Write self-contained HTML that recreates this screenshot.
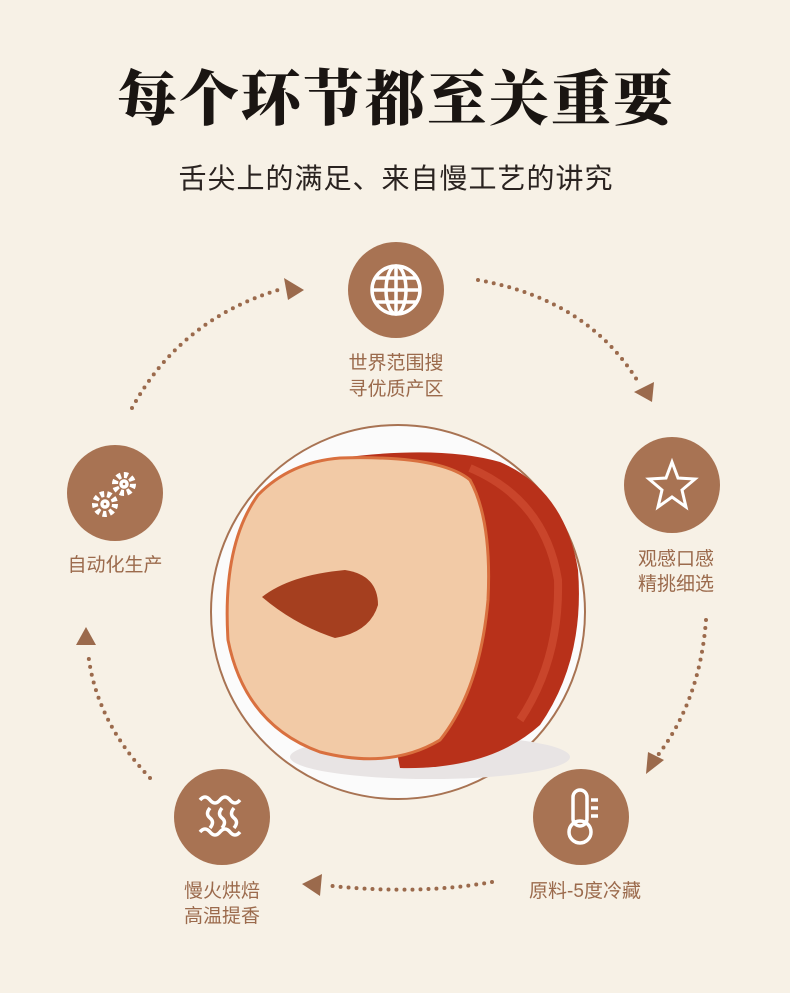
<!DOCTYPE html>
<html><head><meta charset="utf-8"><style>
body{margin:0;width:790px;height:993px;background:#f7f1e6;overflow:hidden}
svg{display:block}
.t{font-family:"Liberation Sans","Noto Sans CJK SC",sans-serif;fill:#9b6a4c;font-size:19px;text-anchor:middle}
</style></head><body>
<svg width="790" height="993" viewBox="0 0 790 993">
<rect width="790" height="993" fill="#f7f1e6"/>
<text x="396" y="120" text-anchor="middle" font-family="'Noto Serif CJK SC',serif" font-weight="900" font-size="60" fill="#1a1512" letter-spacing="2">每个环节都至关重要</text>
<text x="396" y="188" text-anchor="middle" font-family="'Liberation Sans','Noto Sans CJK SC',sans-serif" font-size="28" fill="#2a2320" letter-spacing="1">舌尖上的满足、来自慢工艺的讲究</text>

<g fill="none" stroke="#9b6a4c" stroke-width="4" stroke-linecap="round" stroke-dasharray="0 8">
<path d="M132 408 Q180 320 278 290"/>
<path d="M478 280 Q590 300 640 385"/>
<path d="M706 620 Q700 700 658 755"/>
<path d="M492 882 Q420 895 332 886"/>
<path d="M150 778 Q95 720 88 652"/>
</g>
<g fill="#9b6a4c">
<polygon points="284,278 304,290 288,300"/>
<polygon points="634,392 654,382 652,402"/>
<polygon points="648,752 664,760 646,774"/>
<polygon points="302,884 322,874 320,896"/>
<polygon points="76,645 86,627 96,645"/>
</g>

<circle cx="398" cy="612" r="187" fill="#fbfbfb" stroke="#a87353" stroke-width="2"/>
<ellipse cx="430" cy="757" rx="140" ry="22" fill="#e8e4e4"/>
<path d="M340 458 Q440 445 500 462 Q565 490 578 570 Q585 660 540 725 Q490 770 400 768 Z" fill="#b8311a"/>
<path d="M470 468 Q545 500 558 580 Q560 660 520 720" fill="none" stroke="#d95a3c" stroke-width="8" opacity=".5"/>
<path d="M340 458 Q440 455 470 480 Q492 520 488 600 Q480 690 440 740 Q390 770 320 752 Q245 725 228 640 Q222 545 258 495 Q290 462 340 458 Z" fill="#f2caa6" stroke="#d9703f" stroke-width="3"/>
<path d="M262 597 Q290 575 345 570 Q378 575 378 605 Q370 632 335 638 Q295 625 262 597 Z" fill="#a53f1f"/>

<g fill="#a87353">
<circle cx="396" cy="290" r="48"/>
<circle cx="672" cy="485" r="48"/>
<circle cx="581" cy="817" r="48"/>
<circle cx="222" cy="817" r="48"/>
<circle cx="115" cy="493" r="48"/>
</g>
<g fill="none" stroke="#fff" stroke-width="3.5">
<circle cx="396" cy="290" r="24"/>
<ellipse cx="396" cy="290" rx="10" ry="24"/>
<line x1="372" y1="290" x2="420" y2="290"/><line x1="396" y1="266" x2="396" y2="314"/>
<line x1="376" y1="278" x2="416" y2="278"/><line x1="376" y1="302" x2="416" y2="302"/>
<polygon points="672,462 678,478 695,479 682,490 686,507 672,497 658,507 662,490 649,479 666,478" stroke-width="3"/>
<rect x="573" y="790" width="14" height="36" rx="7"/><circle cx="580" cy="832" r="11"/>
<line x1="591" y1="800" x2="598" y2="800"/><line x1="591" y1="808" x2="598" y2="808"/><line x1="591" y1="816" x2="598" y2="816"/>
<path d="M200 800 q5-6 10 0 t10 0 t10 0 t10 0"/><path d="M200 832 q5-6 10 0 t10 0 t10 0 t10 0"/>
<path d="M210 808 q-5 6 0 10 t0 10"/><path d="M222 808 q-5 6 0 10 t0 10"/><path d="M234 808 q-5 6 0 10 t0 10"/>
<circle cx="124" cy="484" r="9" stroke-dasharray="4 3" stroke-width="6"/><circle cx="124" cy="484" r="3"/>
<circle cx="105" cy="504" r="10" stroke-dasharray="4 3" stroke-width="6"/><circle cx="105" cy="504" r="3"/>
</g>

<text class="t" x="396" y="369">世界范围搜</text>
<text class="t" x="396" y="395">寻优质产区</text>
<text class="t" x="676" y="565">观感口感</text>
<text class="t" x="676" y="590">精挑细选</text>
<text class="t" x="585" y="897">原料-5度冷藏</text>
<text class="t" x="222" y="897">慢火烘焙</text>
<text class="t" x="222" y="922">高温提香</text>
<text class="t" x="115" y="571">自动化生产</text>
</svg>
</body></html>
